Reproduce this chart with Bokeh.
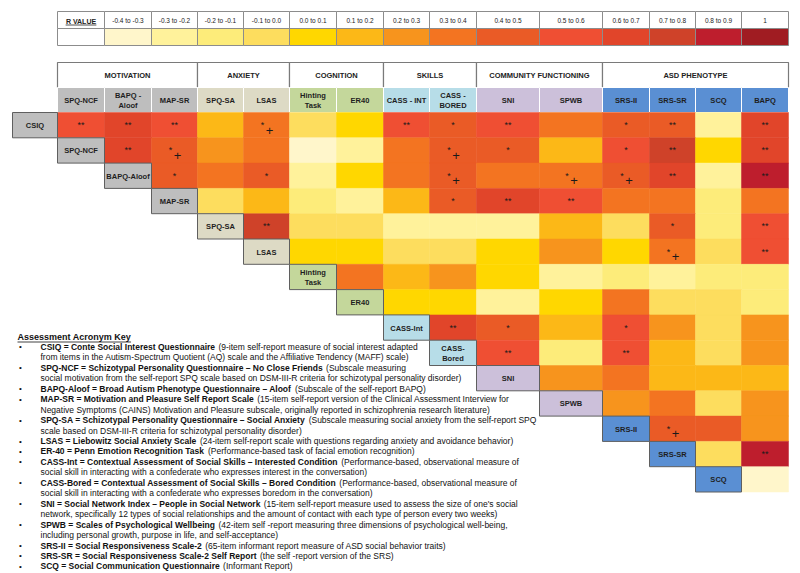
from bokeh.plotting import figure
from bokeh.models import Range1d
from bokeh.core.properties import value
from bokeh.embed import file_html
from bokeh.resources import INLINE

# ---------------- data ----------------
legend_labels = ["-0.4 to -0.3", "-0.3 to -0.2", "-0.2 to -0.1", "-0.1 to 0.0", "0.0 to 0.1",
                 "0.1 to 0.2", "0.2 to 0.3", "0.3 to 0.4", "0.4 to 0.5", "0.5 to 0.6",
                 "0.6 to 0.7", "0.7 to 0.8", "0.8 to 0.9", "1"]
legend_colors = ["#FFF6CB", "#FFF29B", "#FDEC7A", "#FDDD5E", "#FFD700", "#FCB817", "#F7941D",
                 "#F37421", "#EA5B26", "#EF4F33", "#E1452A", "#CF4229", "#BE1E2D", "#A01C22"]

col_labels = ["SPQ-NCF", "BAPQ -\nAloof", "MAP-SR", "SPQ-SA", "LSAS", "Hinting\nTask", "ER40",
              "CASS - INT", "CASS -\nBORED", "SNI", "SPWB", "SRS-II", "SRS-SR", "SCQ", "BAPQ"]
row_labels = ["CSIQ", "SPQ-NCF", "BAPQ-Aloof", "MAP-SR", "SPQ-SA", "LSAS", "Hinting\nTask", "ER40",
              "CASS-Int", "CASS-\nBored", "SNI", "SPWB", "SRS-II", "SRS-SR", "SCQ"]
groups = ["MOTIVATION", "ANXIETY", "COGNITION", "SKILLS", "COMMUNITY FUNCTIONING", "ASD PHENOTYPE"]
group_first_col = [0, 3, 5, 7, 9, 11]
group_last_col = [2, 4, 6, 8, 10, 14]
group_colors = ["#BEBEBE", "#DDDAC5", "#C4D79B", "#B7DDE8", "#CCC0DA", "#5A8FD3"]
col_group = [0, 0, 0, 1, 1, 2, 2, 3, 3, 4, 4, 5, 5, 5, 5]
row_group = [0, 0, 0, 0, 1, 1, 2, 2, 3, 3, 4, 4, 5, 5, 5]

# r-value bin index (into legend) for each row, starting at the column of the same index
bins_csiq = [9, 10, 9, 5, 7, 3, 4, 9, 8, 9, 7, 8, 8, 1, 10]
bins_spqncf = [10, 8, 6, 7, 0, 1, 7, 8, 8, 5, 9, 11, 4, 10]
bins_bapqaloof = [8, 7, 8, 1, 4, 7, 8, 7, 7, 8, 10, 1, 12]
bins_mapsr = [3, 5, 2, 1, 5, 8, 10, 9, 7, 7, 2, 7]
bins_spqsa = [11, 3, 3, 1, 1, 1, 5, 3, 8, 2, 9]
bins_lsas = [4, 4, 3, 3, 4, 6, 4, 7, 3, 9]
bins_hinting = [7, 5, 6, 4, 1, 2, 1, 2, 2]
bins_er40 = [4, 4, 1, 4, 7, 3, 3, 2]
bins_cassint = [10, 8, 5, 9, 6, 3, 6]
bins_cassbored = [9, 2, 9, 5, 3, 6]
bins_sni = [6, 7, 5, 5, 5]
bins_spwb = [6, 7, 3, 6]
bins_srsii = [8, 8, 6]
bins_srssr = [3, 12]
bins_scq = [0]
bin_rows = [bins_csiq, bins_spqncf, bins_bapqaloof, bins_mapsr, bins_spqsa, bins_lsas, bins_hinting,
            bins_er40, bins_cassint, bins_cassbored, bins_sni, bins_spwb, bins_srsii, bins_srssr, bins_scq]

sig_csiq = ["**", "**", "**", "", "*+", "", "", "**", "*", "**", "", "*", "**", "", "**"]
sig_spqncf = ["**", "*+", "", "", "", "", "", "*+", "*", "", "*", "**", "", "**"]
sig_bapqaloof = ["*", "", "*", "", "", "", "*+", "", "*+", "*+", "**", "", "**"]
sig_mapsr = ["", "", "", "", "", "*", "**", "**", "", "", "", ""]
sig_spqsa = ["**", "", "", "", "", "", "", "", "*", "", "**"]
sig_lsas = ["", "", "", "", "", "", "", "*+", "", "**"]
sig_hinting = ["", "", "", "", "", "", "", "", ""]
sig_er40 = ["", "", "", "", "", "", "", ""]
sig_cassint = ["**", "*", "", "*", "", "", ""]
sig_cassbored = ["**", "", "**", "", "", ""]
sig_sni = ["", "", "", "", ""]
sig_spwb = ["", "", "", ""]
sig_srsii = ["*+", "", ""]
sig_srssr = ["", "**"]
sig_scq = [""]
sig_rows = [sig_csiq, sig_spqncf, sig_bapqaloof, sig_mapsr, sig_spqsa, sig_lsas, sig_hinting, sig_er40,
            sig_cassint, sig_cassbored, sig_sni, sig_spwb, sig_srsii, sig_srssr, sig_scq]

key_title = "Assessment Acronym Key"
key_entries = [
    ("CSIQ = Conte Social Interest Questionnaire", "(9-item self-report measure of social interest adapted",
     ["from items in the Autism-Spectrum Quotient (AQ) scale and the Affiliative Tendency (MAFF) scale)"]),
    ("SPQ-NCF = Schizotypal Personality Questionnaire \u2013 No Close Friends", "(Subscale measuring",
     ["social motivation from the self-report SPQ scale based on DSM-III-R criteria for schizotypal personality disorder)"]),
    ("BAPQ-Aloof = Broad Autism Phenotype Questionnaire \u2013 Aloof", "(Subscale of the self-report BAPQ)", []),
    ("MAP-SR = Motivation and Pleasure Self Report Scale", "(15-item self-report version of the Clinical Assessment Interview for",
     ["Negative Symptoms (CAINS) Motivation and Pleasure subscale, originally reported in schizophrenia research literature)"]),
    ("SPQ-SA = Schizotypal Personality Questionnaire \u2013 Social Anxiety", "(Subscale measuring social anxiety from the self-report SPQ",
     ["scale based on DSM-III-R criteria for schizotypal personality disorder)"]),
    ("LSAS = Liebowitz Social Anxiety Scale", "(24-item self-report scale with questions regarding anxiety and avoidance behavior)", []),
    ("ER-40 = Penn Emotion Recognition Task", "(Performance-based task of facial emotion recognition)", []),
    ("CASS-Int = Contextual Assessment of Social Skills \u2013 Interested Condition", "(Performance-based, observational measure of",
     ["social skill in interacting with a confederate who expresses interest in the conversation)"]),
    ("CASS-Bored = Contextual Assessment of Social Skills \u2013 Bored Condition", "(Performance-based, observational measure of",
     ["social skill in interacting with a confederate who expresses boredom in the conversation)"]),
    ("SNI = Social Network Index \u2013 People in Social Network", "(15-item self-report measure used to assess the size of one's social",
     ["network, specifically 12 types of social relationships and the amount of contact with each type of person every two weeks)"]),
    ("SPWB = Scales of Psychological Wellbeing", "(42-item self -report measuring three dimensions of psychological well-being,",
     ["including personal growth, purpose in life, and self-acceptance)"]),
    ("SRS-II = Social Responsiveness Scale-2", "(65-item informant report measure of ASD social behavior traits)", []),
    ("SRS-SR = Social Responsiveness Scale-2 Self Report", "(the self -report version of the SRS)", []),
    ("SCQ = Social Communication Questionnaire", "(Informant Report)", []),
]

# ---------------- layout ----------------
col_edges = [57, 104, 151, 197, 243, 289, 336, 383, 429, 476, 539, 602, 649, 695, 741, 788]
csiq_left = 12
row_top0 = 112.0
row_h = 25.3
grp_top, grp_bot = 62, 87
sub_top, sub_bot = 87, 112
leg_top, leg_mid, leg_bot = 11, 28, 45
FONT = value("Liberation Sans")

BOLD_W = {' ': 278, '(': 333, ')': 333, '-': 333, '=': 584, '\u2013': 556, "'": 238, ',': 278}
for ch, w in zip("ABCDEFGHIJKLMNOPQRSTUVWXYZ",
                 [722, 722, 722, 722, 667, 611, 778, 722, 278, 556, 722, 611, 833, 722, 778, 667, 778, 722,
                  667, 611, 722, 667, 944, 667, 667, 611]):
    BOLD_W[ch] = w
for ch, w in zip("abcdefghijklmnopqrstuvwxyz",
                 [556, 611, 556, 611, 556, 333, 611, 611, 278, 278, 556, 278, 889, 611, 611, 611, 611, 389,
                  556, 333, 611, 556, 778, 556, 556, 500]):
    BOLD_W[ch] = w
for ch in "0123456789":
    BOLD_W[ch] = 556


def bold_width(s, size):
    return sum(BOLD_W.get(c, 556) for c in s) * size / 1000.0


W, H = 800, 573
p = figure(width=W, height=H, x_range=Range1d(0, W), y_range=Range1d(H, 0),
           output_backend="svg", toolbar_location=None, min_border=0,
           x_axis_location=None, y_axis_location=None)
p.grid.visible = False
p.outline_line_color = None
p.background_fill_color = "white"

# ---- legend ----
leg_l = [col_edges[0]] + col_edges[1:-1]
leg_r = col_edges[1:]
p.quad(left=leg_l, right=leg_r, top=[leg_top] * 15, bottom=[leg_mid] * 15,
       fill_color="white", line_color="#8c8c8c", line_width=1)
p.quad(left=col_edges[1:-1], right=col_edges[2:], top=[leg_mid] * 14, bottom=[leg_bot] * 14,
       fill_color=legend_colors, line_color="#8c8c8c", line_width=1)
p.quad(left=[col_edges[0]], right=[col_edges[1]], top=[leg_mid], bottom=[leg_bot],
       fill_color="white", line_color="#8c8c8c", line_width=1)
lx = [(a + b) / 2 for a, b in zip(col_edges[1:-1], col_edges[2:])]
p.text(x=lx, y=[(leg_top + leg_mid) / 2 + 0.5] * 14, text=legend_labels, text_font=FONT,
       text_font_size=value("6.5px"), text_align="center", text_baseline="middle", text_color="#222222")
rx = (col_edges[0] + col_edges[1]) / 2
p.text(x=[rx], y=[(leg_top + leg_mid) / 2 + 1], text=["R VALUE"], text_font=FONT, text_font_size=value("7px"),
       text_font_style="bold", text_align="center", text_baseline="middle", text_color="#222222")
uw = bold_width("R VALUE", 7)
p.segment(x0=[rx - uw / 2], x1=[rx + uw / 2], y0=[(leg_top + leg_mid) / 2 + 5], y1=[(leg_top + leg_mid) / 2 + 5],
          line_color="#222222", line_width=0.8)

# ---- group headers ----
gl = [col_edges[a] for a in group_first_col]
gr = [col_edges[b + 1] for b in group_last_col]
p.quad(left=gl, right=gr, top=[grp_top] * 6, bottom=[grp_bot] * 6, fill_color="white",
       line_color="#7a7a7a", line_width=1.2)
p.text(x=[(a + b) / 2 for a, b in zip(gl, gr)], y=[(grp_top + grp_bot) / 2 + 0.5] * 6, text=groups,
       text_font=FONT, text_font_size=value("7.5px"), text_font_style="bold", text_align="center",
       text_baseline="middle", text_color="#222222")

# ---- column sub headers ----
p.quad(left=col_edges[:-1], right=col_edges[1:], top=[sub_top] * 15, bottom=[sub_bot] * 15,
       fill_color=[group_colors[g] for g in col_group], line_color="white", line_width=1)
p.text(x=[(a + b) / 2 for a, b in zip(col_edges[:-1], col_edges[1:])], y=[(sub_top + sub_bot) / 2 + 0.5] * 15,
       text=col_labels, text_font=FONT, text_font_size=value("7.5px"), text_font_style="bold",
       text_align="center", text_baseline="middle", text_color="#1e1e1e", text_line_height=1.15)

# ---- heatmap cells ----
cl, cr, ct, cb, cc = [], [], [], [], []
s_x, s_y, s_t = [], [], []
sp_x, sp_y, pl_x, pl_y = [], [], [], []
for r, (brow, srow) in enumerate(zip(bin_rows, sig_rows)):
    top = row_top0 + r * row_h
    for k, (b, s) in enumerate(zip(brow, srow)):
        c = r + k
        cl.append(col_edges[c]); cr.append(col_edges[c + 1])
        ct.append(top); cb.append(top + row_h)
        cc.append(legend_colors[b])
        cx = (col_edges[c] + col_edges[c + 1]) / 2
        cy = top + row_h / 2
        if s in ("*", "**"):
            s_x.append(cx); s_y.append(cy); s_t.append(s)
        elif s == "*+":
            sp_x.append(cx - 4); sp_y.append(cy)
            pl_x.append(cx + 3); pl_y.append(cy + 5)
p.quad(left=cl, right=cr, top=ct, bottom=cb, fill_color=cc, line_color=cc, line_width=0.5)
p.text(x=s_x, y=s_y, text=s_t, text_font=FONT, text_font_size=value("9px"), text_align="center",
       text_baseline="middle", text_color="#1a1a1a")
p.text(x=sp_x, y=sp_y, text=["*"] * len(sp_x), text_font=FONT, text_font_size=value("9px"),
       text_align="center", text_baseline="middle", text_color="#1a1a1a")
p.text(x=pl_x, y=pl_y, text=["+"] * len(pl_x), text_font=FONT, text_font_size=value("13px"),
       text_align="center", text_baseline="middle", text_color="#1a1a1a")

# ---- row label cells (diagonal) ----
rl = [csiq_left] + col_edges[:14]
rr = col_edges[:15]
rt = [row_top0 + r * row_h for r in range(15)]
rb = [t + row_h for t in rt]
p.quad(left=rl, right=rr, top=rt, bottom=rb, fill_color=[group_colors[g] for g in row_group],
       line_color="#5f5f5f", line_width=1)
p.text(x=[(a + b) / 2 for a, b in zip(rl, rr)], y=[t + row_h / 2 + 0.5 for t in rt], text=row_labels,
       text_font=FONT, text_font_size=value("7.5px"), text_font_style="bold", text_align="center",
       text_baseline="middle", text_color="#1e1e1e", text_line_height=1.15)

# ---- acronym key ----
KFS = 8.5
key_y0 = 336
key_dy = 10.45
p.text(x=[17], y=[key_y0], text=[key_title], text_font=FONT, text_font_size=value("9px"),
       text_font_style="bold", text_align="left", text_baseline="middle", text_color="#111111")
tw = bold_width(key_title, 9)
p.segment(x0=[17], x1=[17 + tw], y0=[key_y0 + 5.5], y1=[key_y0 + 5.5], line_color="#111111", line_width=0.8)

b_x, b_y, b_t = [], [], []
n_x, n_y, n_t = [], [], []
bul_y = []
line = 1
for bold, rest, cont in key_entries:
    y = key_y0 + line * key_dy
    bul_y.append(y)
    b_x.append(40); b_y.append(y); b_t.append(bold)
    n_x.append(40 + bold_width(bold + " ", KFS) + 1); n_y.append(y); n_t.append(rest)
    line += 1
    for c in cont:
        n_x.append(40); n_y.append(key_y0 + line * key_dy); n_t.append(c)
        line += 1
p.text(x=[20] * len(bul_y), y=bul_y, text=["\u2022"] * len(bul_y), text_font=FONT,
       text_font_size=value("8px"), text_align="center", text_baseline="middle", text_color="#111111")
p.text(x=b_x, y=b_y, text=b_t, text_font=FONT, text_font_size=value("%spx" % KFS), text_font_style="bold",
       text_align="left", text_baseline="middle", text_color="#111111")
p.text(x=n_x, y=n_y, text=n_t, text_font=FONT, text_font_size=value("%spx" % KFS),
       text_align="left", text_baseline="middle", text_color="#111111")

open("out.html", "w").write(file_html(p, INLINE))
